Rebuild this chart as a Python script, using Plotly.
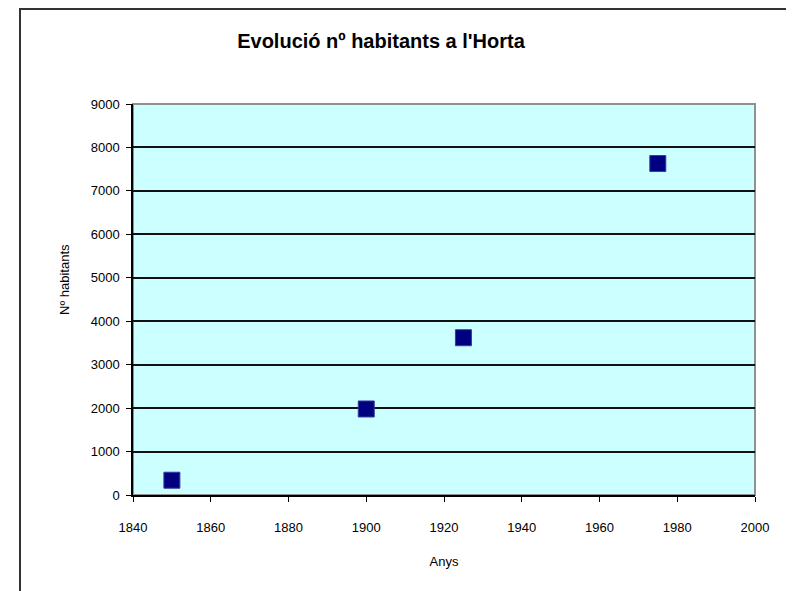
import plotly.graph_objects as go

# data
anys = [1850, 1900, 1925, 1975]
habitants = [340, 1980, 3620, 7630]

x_ticks = list(range(1840, 2001, 20))
y_ticks = list(range(0, 9001, 1000))

# the page adds an 8px body margin, so the figure is 8px smaller on each side
OFF = 8
W, H = 794 - OFF, 591 - OFF
L, R, T, B = 133 - OFF, 39, 104 - OFF, 96
pw, ph = W - L - R, H - T - B


def px_x(x):
    # page pixel -> paper x
    return (x - OFF - L) / pw


def px_y(y):
    # page pixel -> paper y
    return (H - B - (y - OFF)) / ph


fig = go.Figure()
fig.add_trace(go.Scatter(
    x=anys, y=habitants, mode="markers",
    marker=dict(symbol="square", size=16, color="#000080",
                line=dict(color="#3a3aa0", width=1)),
    showlegend=False,
))

axis_font = dict(family="Liberation Sans, Arial, sans-serif", size=13, color="black")

fig.update_layout(
    width=W, height=H,
    margin=dict(l=L, r=R, t=T, b=B),
    paper_bgcolor="white",
    plot_bgcolor="#CCFFFF",
    font=axis_font,
    title=dict(
        text="<b>Evolució nº habitants a l'Horta</b>",
        font=dict(family="Liberation Sans, Arial, sans-serif", size=20, color="black"),
        x=px_x(381), xref="paper", xanchor="center",
        y=1 - (41 - OFF) / H, yref="container", yanchor="middle",
    ),
    xaxis=dict(
        range=[1840, 2000], tickvals=x_ticks, ticks="outside", ticklen=5,
        tickcolor="black", showline=True, linecolor="black", linewidth=1.5,
        showgrid=False, zeroline=False, tickfont=axis_font,
        ticklabelstandoff=15,
        title=dict(text="Anys", font=axis_font, standoff=23),
    ),
    yaxis=dict(
        range=[0, 9000], tickvals=y_ticks, ticks="outside", ticklen=5,
        tickcolor="black", showline=True, linecolor="black", linewidth=1.5,
        showgrid=True, gridcolor="#111111", gridwidth=1.5, zeroline=False,
        tickfont=axis_font, ticklabelstandoff=4,
    ),
    annotations=[
        dict(text="Nº habitants", xref="paper", yref="paper",
             x=px_x(64), y=px_y(280), textangle=-90, showarrow=False,
             xanchor="center", yanchor="middle", font=axis_font),
    ],
    shapes=[
        # gray frame of the plot area
        dict(type="rect", xref="paper", yref="paper", x0=0, y0=0, x1=1, y1=1,
             line=dict(color="#909090", width=2), layer="below"),
        # outer chart border
        dict(type="rect", xref="paper", yref="paper",
             x0=px_x(20), x1=px_x(790), y0=px_y(620), y1=px_y(OFF + 1),
             line=dict(color="#333333", width=2)),
    ],
)

fig.write_html("out.html")
